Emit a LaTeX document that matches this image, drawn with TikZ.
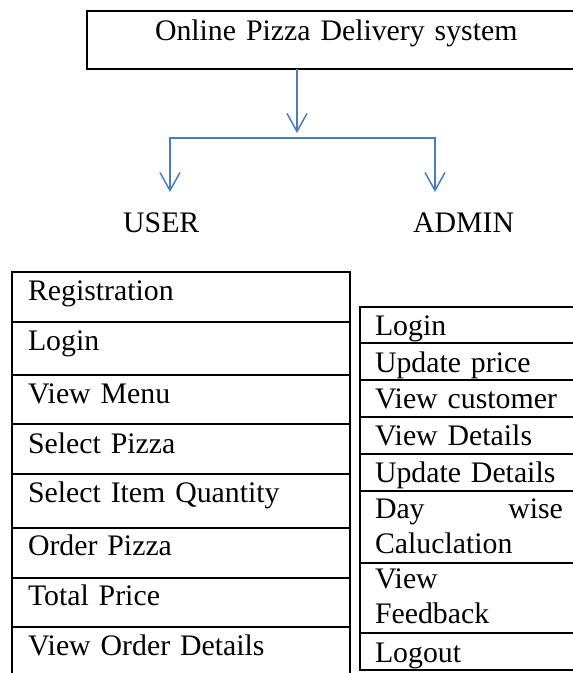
\documentclass[tikz,border=0pt]{standalone}
\usepackage{fontspec}
\setmainfont{Liberation Serif}
\usetikzlibrary{arrows.meta}
\definecolor{arrowblue}{HTML}{4A7EBB}
\begin{document}
\begin{tikzpicture}[x=1pt,y=-1pt,
  font=\fontsize{29.8}{35}\selectfont,
  cellbox/.style={draw, line width=1.9pt, anchor=north west, outer sep=0pt, inner ysep=0pt, align=left},
  ucell/.style 2 args={cellbox, inner xsep=16pt, text width=306pt, text height=#1, text depth=#2},
  acell/.style 2 args={cellbox, inner xsep=15pt, text width=188pt, text height=#1, text depth=#2},
  conn/.style={draw=arrowblue, line width=1.5pt, -{Straight Barb[length=18pt,width=20pt]}},
  rolelabel/.style={anchor=base west, inner sep=0pt}]
\useasboundingbox (0,0) rectangle (573,673);

% title
\node[cellbox, inner xsep=68pt, text width=377pt, text height=29pt, text depth=29pt] (title) at (87,11) {Online Pizza Delivery system};

% roles
\node[rolelabel] (user) at (123,232) {USER};
\node[rolelabel] (admin) at (413,232) {ADMIN};
\coordinate (split) at (297,138);
\coordinate (userin) at (170,192);
\coordinate (adminin) at (435,192);
\draw[conn] (title.south -| split) -- ([yshift=5pt]split);
\draw[conn] (split) -| (userin);
\draw[conn] (split) -| (adminin);

% user table
\node[ucell={28pt}{22pt}] (u1) at (12,272) {Registration};
\node[ucell={28pt}{25pt}] (u2) at (u1.south west) {Login};
\node[ucell={28pt}{21pt}] (u3) at (u2.south west) {View Menu};
\node[ucell={29pt}{21pt}] (u4) at (u3.south west) {Select Pizza};
\node[ucell={28pt}{26pt}] (u5) at (u4.south west) {Select Item Quantity};
\node[ucell={27pt}{23pt}] (u6) at (u5.south west) {Order Pizza};
\node[ucell={27pt}{22pt}] (u7) at (u6.south west) {Total Price};
\node[ucell={28pt}{40pt}] (u8) at (u7.south west) {View Order Details};

% admin table
\node[acell={28pt}{8pt}] (a1) at (360,307) {Login};
\node[acell={29pt}{8pt}] (a2) at (a1.south west) {Update price};
\node[acell={28pt}{9pt}] (a3) at (a2.south west) {View customer};
\node[acell={28pt}{9pt}] (a4) at (a3.south west) {View Details};
\node[acell={28pt}{9pt}] (a5) at (a4.south west) {Update Details};
\node[acell={27pt}{45pt}] (a6) at (a5.south west) {Day\hfill wise\\Caluclation};
\node[acell={25pt}{45pt}] (a7) at (a6.south west) {View\\Feedback};
\node[acell={29pt}{8pt}] (a8) at (a7.south west) {Logout};
\end{tikzpicture}
\end{document}
